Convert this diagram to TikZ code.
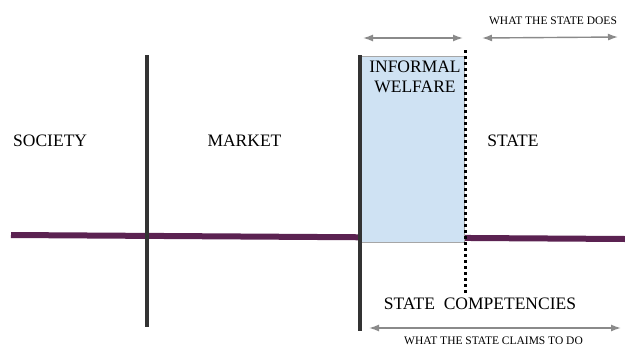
\documentclass[tikz,border=0pt]{standalone}
\usepackage{fontspec}
\setmainfont{Liberation Serif}
\usetikzlibrary{arrows.meta}
\definecolor{plum}{HTML}{5B2251}
\definecolor{bar}{HTML}{333333}
\definecolor{welfare}{HTML}{CFE2F3}
\definecolor{span}{HTML}{8A8A8A}
\begin{document}
\begin{tikzpicture}[x=1pt,y=-1pt,
  big/.style={font=\fontsize{17.5}{20}\selectfont, inner sep=0pt, anchor=base},
  small/.style={font=\fontsize{11.5}{13}\selectfont, inner sep=0pt, anchor=base},
  divider/.style={draw=bar, line width=4.5pt},
  spanarrow/.style={draw=span, line width=1.4pt, {Latex[length=10pt,width=7pt]}-{Latex[length=10pt,width=7pt]}}]
\useasboundingbox (0,0) rectangle (625,346);

% horizontal axis
\coordinate (axL) at (11,235);
\coordinate (axR) at (625,239);
\draw[plum, line width=6pt] (axL) -- (axR);

% informal welfare zone
\node[draw=gray!70, fill=welfare, line width=1pt, minimum width=104pt, minimum height=186pt, inner sep=0pt]
  (zone) at (412,149.5) {};

% dividers
\coordinate (d1t) at (147,55);
\coordinate (d1b) at (147,327);
\coordinate (d2t) at (360,55);
\coordinate (d2b) at (360,331);
\draw[divider] (d1t) -- (d1b);
\draw[divider] (d2t) -- (d2b);

% boundary of state competencies
\coordinate (dtt) at (465,50);
\coordinate (dtb) at (465,293);
\draw[black, line width=3pt, dash pattern=on 3pt off 3pt] (dtt) -- (dtb);

% labels
\node[big, anchor=base west] (society) at (13,146) {SOCIETY};
\node[big] (market) at (244.5,146) {MARKET};
\node[big] (state) at (513,146) {STATE};
\node[big, align=center] (informal) at (415,92) {INFORMAL\\WELFARE};
\node[big] (comp) at (480,309) {STATE\ \ COMPETENCIES};
\node[small] (does) at (553,24) {WHAT THE STATE DOES};
\node[small] (claims) at (493.5,344) {WHAT THE STATE CLAIMS TO DO};

% spans
\coordinate (s1l) at (363,38);
\coordinate (s1r) at (463,38);
\coordinate (s2l) at (482,38);
\coordinate (s2r) at (618,37);
\coordinate (s3l) at (369,328);
\coordinate (s3r) at (621,328);
\draw[spanarrow] (s1l) -- (s1r);
\draw[spanarrow] (s2l) -- (s2r);
\draw[spanarrow] (s3l) -- (s3r);
\end{tikzpicture}
\end{document}
